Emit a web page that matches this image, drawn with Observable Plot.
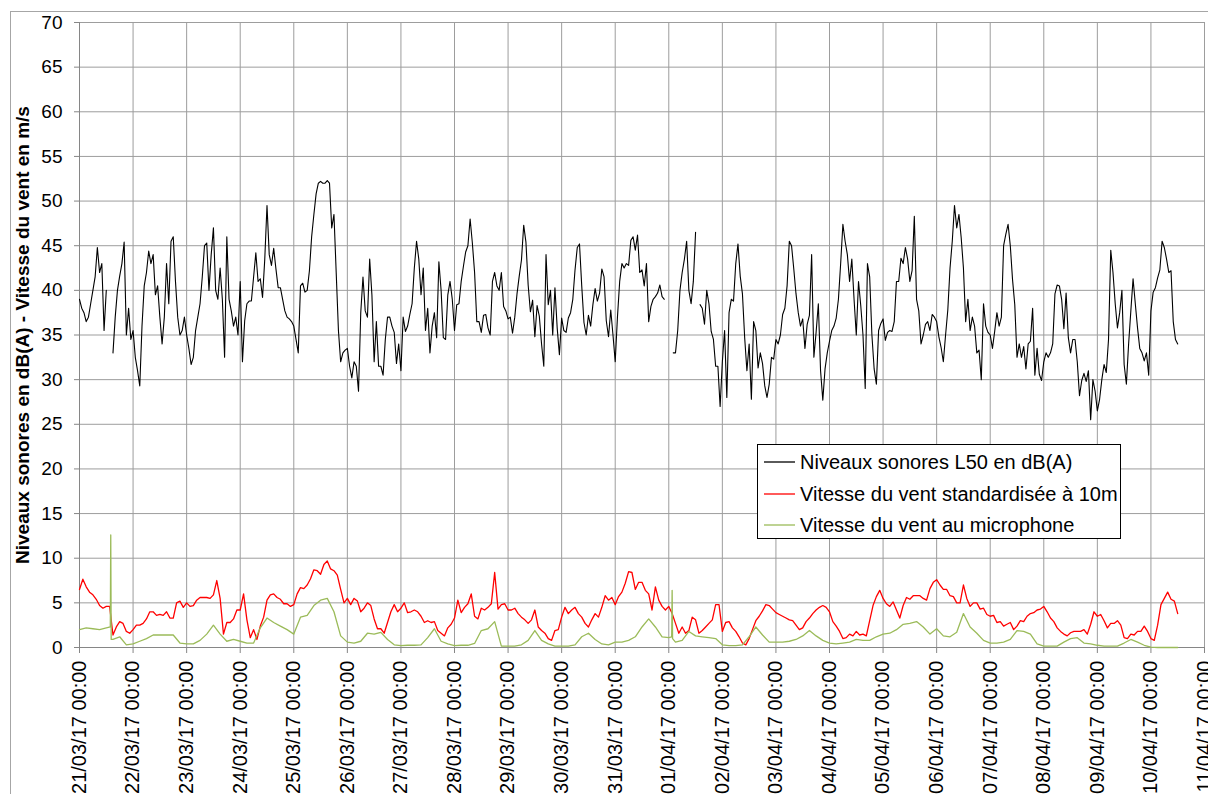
<!DOCTYPE html>
<html><head><meta charset="utf-8">
<script src="https://cdn.jsdelivr.net/npm/d3@7"></script>
<script src="https://cdn.jsdelivr.net/npm/@observablehq/plot@0.6"></script>
<style>
html,body{margin:0;padding:0;background:#fff;overflow:hidden;}
#wrap{position:relative;width:1208px;height:794px;overflow:hidden;font-family:"Liberation Sans",Arial,sans-serif;}
#frame{position:absolute;left:10px;top:11px;width:1300px;height:900px;border:1px solid #a6a6a6;box-sizing:border-box;}
#chart{position:absolute;left:0;top:0;}
#legend{position:absolute;left:757px;top:444px;width:364px;height:95px;border:1px solid #000;background:#fff;box-sizing:border-box;}
.row{position:absolute;left:0;height:30px;width:360px;}
.row svg{position:absolute;left:6px;top:0;}
.row span{position:absolute;left:42px;top:3px;font-size:20px;line-height:24px;color:#000;white-space:nowrap;}
</style></head>
<body><div id="wrap"><div id="frame"></div><div id="chart"></div><div id="legend"></div></div>
<script>
// ---- data ----
const seriesNames = ["Niveaux sonores L50 en dB(A)", "Vitesse du vent standardisée à 10m", "Vitesse du vent au microphone"];
const seriesColors = ["#000000", "#ff0000", "#9bbb59"];
const yTitle = "Niveaux sonores en dB(A) - Vitesse du vent en m/s";
const yTicks = [0,5,10,15,20,25,30,35,40,45,50,55,60,65,70];
const startDate = "2017-03-21T00:00:00Z";
const endDate = "2017-04-11T00:00:00Z";
const noiseStepHours = 1;
const wind10mStepHours = 1.5;
const micStepHours = 3;

// L50 noise level, hourly from 21/03/17 00:00 (one row per day, null = no data)
const noiseL50 = [
 39,38,37.5,36.5,37,38.5,40,41.5,44.8,42,43,35.5,40,null,null,33,37,40,41.6,43,45.4,35,38,34.5,
 35.5,32.5,31,29.3,36,40.5,42,44.4,43,44,39.5,40.5,37,34,37,43,38.5,45.5,46,41,37,35,35.5,37,
 35,33.5,31.7,32.5,35.5,37,38.5,41.5,45,45.3,40,44,47,40,39,42.5,39,32.5,46,39,37.7,36,37,35,
 41,32,36.6,38.5,38.8,38.8,41.5,44.2,41,41.3,39.2,43.5,49.5,44,42.8,44.7,42.4,40.3,40.3,39,37.7,37,36.8,36.5,
 36,34.5,33,40.5,40.8,39.8,40,42.2,46,48.5,50.8,52,52.2,52,52,52.3,52,47,48.5,42,35.5,32,33,33.3,
 33.5,31.5,30.2,32,31.5,28.7,37.5,41.5,37.7,37,43.5,39.5,32,36.5,31.5,31.5,30.5,34.5,37,37,36,35.3,31.8,34,
 31,37,35.4,36,37.3,38.5,42.5,45.5,43.5,39.5,42.5,35.5,38,33,36,37.5,34.7,43.2,40,34.7,34.5,39.5,41,39,
 35.5,38.4,38.5,41,42.7,44.3,45,48,45.3,42,36.5,36.5,35.3,37.2,37.3,35.8,35,41,42,40.5,40,42,38.2,37.7,
 36.8,37,35.2,37,39.6,41.6,43.4,47.3,45.4,40.6,37.6,38.9,34.8,38.3,37.1,34,31.5,44,38.4,40,35,40.3,35.8,32.8,
 36.9,35.5,35.3,36.9,37.5,39,42.3,44.8,45.2,40.5,36.4,35,37.2,36,38.4,40.2,38.8,39.7,42.4,41.5,36.6,34.8,37.8,35,
 32,37,41,43,42.5,43,42.8,45.6,46,44.5,46.2,42,42.3,40.5,43,36.5,38.2,39,39.3,39.7,40.6,39.3,39,null,
 null,null,33,33,35.5,40,42,43.5,45.5,40,38.5,41,46.5,null,38.4,38,36.2,40,38.5,35.4,34.5,31.5,31.5,27,
 32,35.5,28,37.5,39,38.8,43,45.2,41.6,39.6,34.7,31,34,27.8,36.5,35.5,31.3,33,31.8,29.3,28,29.5,32.5,32.3,
 34.5,34,35,37.3,38,40.5,45.5,45,42.4,39.6,37.5,36,36.8,33.5,36.2,37.2,44,32.5,35.3,38.5,31,27.7,31.2,33,
 34.3,35.5,36,36.9,39,43,47.4,45.5,44,41,43.5,39,35,41,38.3,35,29,43,41.5,35,31.2,29.5,35.5,36.3,
 36.8,34.4,35.3,35.5,35.4,36.5,41,41,43.6,43,44.8,43.5,41,42.2,48.3,39,37.7,34,35,36.2,36.5,35.5,37.3,37,
 36.5,34.8,33.6,32,35,37.8,42.5,45.5,49.5,47,48.5,45.9,42.5,36.5,39,35.5,37,36,33,33.3,30,38.5,36,35.3,
 35,33.5,35.4,37.5,36,37,45,46.3,47.4,45,41.2,38.4,32.5,34,32.5,33.7,31.2,34,34.3,38,30.5,33.5,30.6,29.9,
 32,33,32.5,33,34,39.6,40.6,40.5,39,35.7,39.7,34.7,33,34.5,34.5,32,28.2,29.9,30.7,29.8,31,25.5,30,28.7,
 26.5,27.8,30,31.7,30.8,34.5,44.5,42,38.5,35.8,37.5,40,31.7,29.5,34,37.7,41.3,38.5,35.8,33.5,33,32.1,33,30.5,
 37.7,39.8,40.3,41.4,42.3,45.5,44.8,43.5,42,42.2,36.5,34.5,34
];

// Wind speed standardised at 10 m, every 1.5 hours (one row per day)
const wind10m = [
 6.5,7.65,6.8,6.2,5.9,5.4,4.7,4.4,4.6,4.6,1.4,2.3,2.9,2.7,1.8,1.6,
 2.0,2.5,2.5,2.7,3.2,4.0,4.0,3.6,3.7,3.6,4.0,3.3,3.3,5.0,5.2,4.5,
 5.0,4.6,4.7,5.3,5.6,5.6,5.6,5.5,5.9,7.5,5.5,1.5,2.8,2.8,3.2,4.2,
 4.2,6.0,3.1,1.1,2.0,0.9,2.4,3.4,5.3,5.9,6.0,5.6,5.4,4.9,4.9,4.6,
 4.8,6.0,6.7,6.6,7.0,7.7,8.7,8.6,8.2,9.3,9.7,8.8,8.6,8.1,6.5,5.0,
 5.5,4.8,5.5,5.2,4.0,4.4,5.0,4.7,3.2,2.1,2.1,1.6,2.8,4.0,4.8,4.0,
 4.4,5.0,3.9,4.0,4.2,4.0,3.5,2.8,3.0,2.8,2.9,1.9,1.6,1.3,2.2,2.6,
 3.3,5.3,3.9,4.5,4.9,6.0,3.5,3.2,4.4,4.2,4.5,4.9,8.4,4.3,4.8,4.9,
 4.2,4.2,4.4,3.8,3.4,3.1,2.7,3.1,4.2,2.3,1.9,1.6,1.0,0.8,1.9,2.0,
 3.4,4.5,3.8,4.2,4.5,3.8,3.4,2.7,2.3,3.1,3.8,3.4,4.5,5.8,5.3,5.6,
 4.8,5.7,6.2,7.2,8.5,8.4,6.5,7.3,7.3,6.4,6.0,4.2,6.8,5.3,4.6,4.2,
 4.6,3.8,2.7,1.6,2.3,1.6,1.9,3.4,3.1,1.6,1.9,2.3,2.7,3.1,4.8,4.8,
 1.8,2.8,2.9,2.2,1.8,1.2,0.5,0.3,1.0,2.0,3.0,3.5,4.1,4.8,4.7,4.3,
 3.9,3.7,3.5,3.3,3.1,3.0,2.5,2.0,2.2,2.9,3.3,3.8,4.2,4.5,4.7,4.5,
 4.0,2.9,2.4,1.8,1.0,1.1,1.5,1.3,1.8,1.4,1.5,1.3,3.0,4.7,5.7,6.4,
 5.5,4.9,4.6,5.1,4.2,3.3,4.7,5.6,5.4,5.8,5.8,5.8,5.5,5.3,6.6,7.3,
 7.6,7.0,6.5,6.5,5.8,5.7,5.0,5.0,7.0,5.5,4.6,5.0,5.0,4.3,4.4,3.7,
 3.5,3.6,2.8,2.9,2.4,2.6,2.8,2.0,2.4,3.0,2.9,3.5,3.8,3.9,4.2,4.3,
 4.6,4.0,3.3,2.9,2.2,1.8,1.5,1.3,1.65,1.8,1.8,1.8,2.0,1.5,2.6,4.0,
 3.5,3.7,3.0,2.2,2.7,2.7,3.0,2.5,1.1,1.0,1.5,1.4,1.8,1.8,2.4,1.8,
 1.0,0.8,2.5,4.8,5.5,6.2,5.4,5.2,3.8
];

// Wind speed at the microphone, every 3 hours (one row per day)
const windMic = [
 2.0,2.2,2.1,2.0,2.2,0.9,1.2,0.3,
 0.4,0.7,1.0,1.4,1.4,1.4,1.4,0.5,
 0.4,0.4,0.8,1.5,2.5,1.5,0.7,0.9,
 0.7,0.5,0.5,2.2,3.3,2.8,2.4,2.0,
 1.5,3.4,3.6,4.7,5.3,5.5,4.0,1.3,
 0.6,0.5,0.7,1.6,1.5,1.7,0.9,0.3,
 0.2,0.25,0.25,0.3,1.1,2.1,0.7,0.4,
 0.2,0.25,0.25,0.45,1.9,2.1,2.9,0.15,
 0.15,0.15,0.3,0.8,1.9,0.8,0.4,0.15,
 0.15,0.15,0.3,1.2,1.6,0.9,0.4,0.3,
 0.6,0.6,0.8,1.2,2.3,3.2,2.3,1.2,
 1.1,0.6,0.8,1.8,1.3,1.2,1.1,1.0,
 0.3,0.2,0.2,0.3,1.2,2.3,1.4,0.6,
 0.6,0.6,0.7,0.9,1.3,1.9,1.3,0.8,
 0.5,0.4,0.5,0.6,0.9,0.8,0.8,1.2,
 1.5,1.6,2.0,2.6,2.7,2.9,2.3,1.5,
 2.1,1.3,1.2,1.7,3.8,2.3,1.6,0.8,
 0.5,0.5,0.6,0.9,1.9,1.8,1.5,0.4,
 0.15,0.15,0.15,0.6,1.0,1.1,0.5,0.4,
 0.25,0.15,0.15,0.15,0.5,0.9,0.6,0.25,
 0.05,0,0,0,0
];
// short spikes at the microphone (hours since start, value)
const micSpikeHours = [13.8, 14.0, 14.2, 265.3, 265.5, 265.7];
const micSpikeValues = [2.3, 12.6, 0.9, 1.2, 6.4, 1.0];

// ---- build tables ----
const start = new Date(startDate), end = new Date(endDate);
const H = 3600e3;
const at = h => new Date(+start + h * H);
const noiseData = noiseL50.map((v, i) => ({t: at(i * noiseStepHours), v}));
const windData = wind10m.map((v, i) => ({t: at(i * wind10mStepHours), v}));
const micData = windMic.map((v, i) => ({h: i * micStepHours, v}))
  .concat(micSpikeHours.map((h, i) => ({h, v: micSpikeValues[i]})))
  .sort((a, b) => a.h - b.h)
  .map(d => ({t: at(d.h), v: d.v}));
const days = d3.utcDay.range(start, d3.utcDay.offset(end, 1));
const fmtTick = d3.utcFormat("%d/%m/%y %H:%M");

const chart = Plot.plot({
  width: 1208, height: 794,
  marginLeft: 79, marginRight: 4, marginTop: 22, marginBottom: 147,
  style: {fontFamily: "'Liberation Sans', Arial, sans-serif", background: "transparent", overflow: "visible", color: "#000"},
  x: {type: "utc", domain: [start, end]},
  y: {domain: [0, 70]},
  marks: [
    Plot.gridY(yTicks, {stroke: "#9d9d9d", strokeOpacity: 1}),
    Plot.gridX(days, {stroke: "#9d9d9d", strokeOpacity: 1}),
    Plot.ruleX([start], {stroke: "#868686"}),
    Plot.ruleY([0], {stroke: "#868686"}),
    Plot.axisY(yTicks, {tickSize: 5, tickPadding: 12, fontSize: 19, stroke: "#868686", fill: "#000", label: null, tickFormat: d => String(d)}),
    Plot.axisX(days, {tickSize: 6, tickPadding: 7, tickRotate: -90, fontSize: 20, stroke: "#868686", fill: "#000", label: null, tickFormat: fmtTick}),
    Plot.line(noiseData, {x: "t", y: "v", stroke: seriesColors[0], strokeWidth: 1.1}),
    Plot.line(windData, {x: "t", y: "v", stroke: seriesColors[1], strokeWidth: 1.3}),
    Plot.line(micData, {x: "t", y: "v", stroke: seriesColors[2], strokeWidth: 1.3}),
    Plot.text([yTitle], {frameAnchor: "left", textAnchor: "middle", dx: -57, rotate: -90, fontWeight: "bold", fontSize: 19, fill: "#000"})
  ]
});
document.getElementById("chart").appendChild(chart);

// legend
const legend = document.getElementById("legend");
seriesNames.forEach((name, i) => {
  const row = document.createElement("div");
  row.className = "row";
  row.style.top = (2 + i * 31.5) + "px";
  row.innerHTML = `<svg width="32" height="30"><line x1="0" x2="31" y1="15" y2="15" stroke="${seriesColors[i]}" stroke-width="1.3"/></svg><span>${name}</span>`;
  legend.appendChild(row);
});
</script></body></html>
